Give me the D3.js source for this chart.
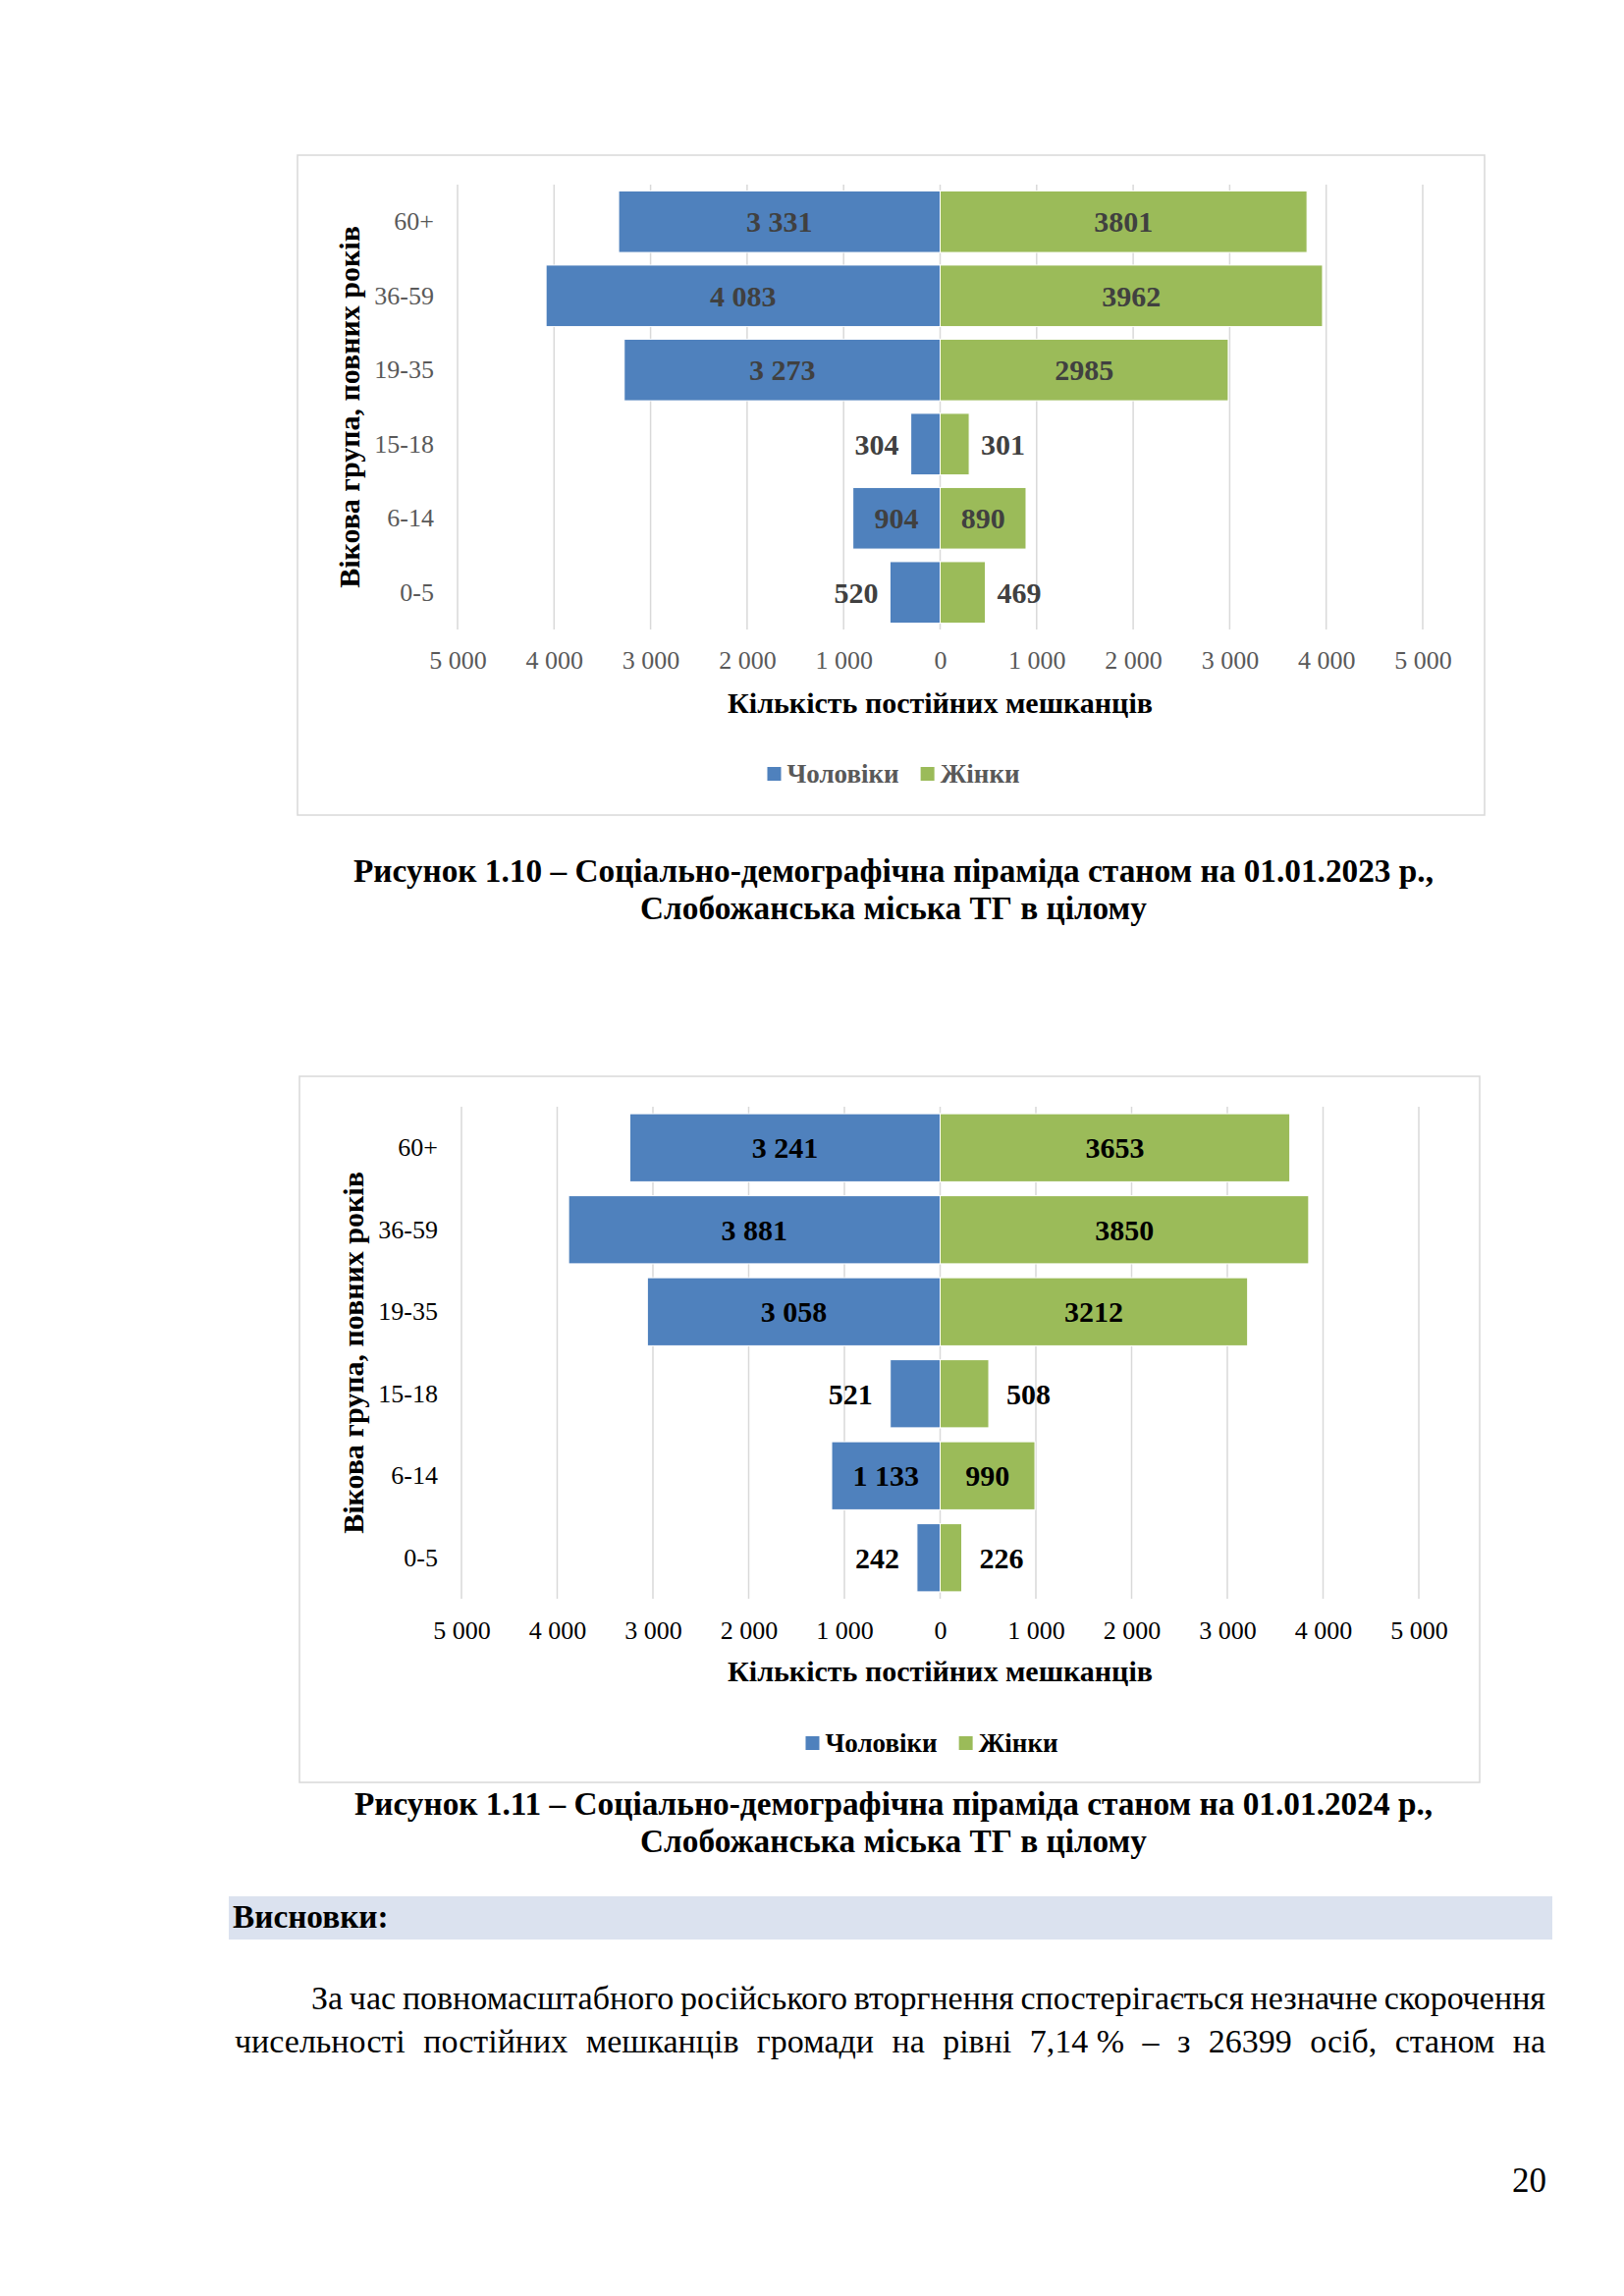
<!DOCTYPE html>
<html>
<head>
<meta charset="utf-8">
<script src="https://cdn.jsdelivr.net/npm/d3@7"></script>
<style>
  body { margin: 0; background: #fff; }
  svg { display: block; }
</style>
</head>
<body>
<svg id="page" width="1654" height="2338"></svg>
<script>
// age groups, top to bottom
const ageGroups = ["60+", "36-59", "19-35", "15-18", "6-14", "0-5"];

// 01.01.2023
const men2023 = [3331, 4083, 3273, 304, 904, 520];
const women2023 = [3801, 3962, 2985, 301, 890, 469];

// 01.01.2024
const men2024 = [3241, 3881, 3058, 521, 1133, 242];
const women2024 = [3653, 3850, 3212, 508, 990, 226];

const xTicks = [-5000, -4000, -3000, -2000, -1000, 0, 1000, 2000, 3000, 4000, 5000];
const seriesNames = ["Чоловіки", "Жінки"];
const yTitle = "Вікова група, повних років";
const xTitle = "Кількість постійних мешканців";

const captions1 = ["Рисунок 1.10 – Соціально-демографічна піраміда станом на 01.01.2023 р.,",
                   "Слобожанська міська ТГ в цілому"];
const captions2 = ["Рисунок 1.11 – Соціально-демографічна піраміда станом на 01.01.2024 р.,",
                   "Слобожанська міська ТГ в цілому"];
const bodyLines = [
  "За час повномасштабного російського вторгнення спостерігається незначне скорочення",
  "чисельності постійних мешканців громади на рівні 7,14\u00A0% – з 26399 осіб, станом на"
];

const SERIF = "'Liberation Serif', 'Times New Roman', serif";
const blue = "#4F81BD", green = "#9BBB59";

// thousands with a space, like Excel uk-UA
const loc = d3.formatLocale({decimal: ",", thousands: " ", grouping: [3], currency: ["", ""]});
const fmtSpace = loc.format(",d");

const svg = d3.select("#page");

function drawPyramid(cfg) {
  const g = svg.append("g");

  // chart area frame
  g.append("rect")
    .attr("x", cfg.frame[0]).attr("y", cfg.frame[1])
    .attr("width", cfg.frame[2] - cfg.frame[0]).attr("height", cfg.frame[3] - cfg.frame[1])
    .attr("fill", "#fff").attr("stroke", "#D9D9D9").attr("stroke-width", 1.5);

  const x = d3.scaleLinear().domain([-5000, 5000]).range(cfg.xRange);
  const y = d3.scaleBand().domain(ageGroups).range(cfg.yRange)
    .paddingInner(0.17).paddingOuter(0.085);

  // vertical gridlines
  g.append("g").selectAll("line")
    .data(xTicks)
    .join("line")
      .attr("x1", d => x(d)).attr("x2", d => x(d))
      .attr("y1", cfg.yRange[0]).attr("y2", cfg.yRange[1])
      .attr("stroke", "#D9D9D9").attr("stroke-width", 1.5);

  // x axis labels (absolute values)
  const xAxis = g.append("g")
    .attr("transform", `translate(0,${cfg.yRange[1]})`)
    .call(d3.axisBottom(x).tickValues(xTicks).tickSize(0).tickPadding(cfg.tickPad)
      .tickFormat(d => fmtSpace(Math.abs(d))));
  xAxis.select(".domain").remove();
  xAxis.selectAll("text")
    .attr("font-family", SERIF).attr("font-size", 26).attr("fill", cfg.axisColor);

  // age group labels
  const yAxis = g.append("g")
    .attr("transform", `translate(${cfg.xRange[0]},0)`)
    .call(d3.axisLeft(y).tickSize(0).tickPadding(24));
  yAxis.select(".domain").remove();
  yAxis.selectAll("text")
    .attr("font-family", SERIF).attr("font-size", 26).attr("fill", cfg.axisColor);

  const rows = ageGroups.map((a, i) => ({age: a, men: cfg.men[i], women: cfg.women[i]}));

  // men bars to the left, women to the right
  g.append("g").selectAll("rect")
    .data(rows)
    .join("rect")
      .attr("x", d => x(-d.men)).attr("y", d => y(d.age))
      .attr("width", d => x(0) - x(-d.men)).attr("height", y.bandwidth())
      .attr("fill", blue).attr("stroke", "#fff").attr("stroke-width", 1);
  g.append("g").selectAll("rect")
    .data(rows)
    .join("rect")
      .attr("x", x(0)).attr("y", d => y(d.age))
      .attr("width", d => x(d.women) - x(0)).attr("height", y.bandwidth())
      .attr("fill", green).attr("stroke", "#fff").attr("stroke-width", 1);

  // data labels: centered when they fit, otherwise just outside the bar end
  const labels = [];
  rows.forEach(d => {
    labels.push({age: d.age, side: -1, v: d.men, txt: fmtSpace(d.men)});
    labels.push({age: d.age, side: 1, v: d.women, txt: String(d.women)});
  });
  g.append("g").selectAll("text")
    .data(labels)
    .join("text")
      .attr("font-family", SERIF).attr("font-size", 30).attr("font-weight", "bold")
      .attr("fill", cfg.labelColor)
      .attr("y", d => y(d.age) + y.bandwidth() / 2)
      .attr("dy", "0.35em")
      .text(d => d.txt)
      .each(function (d) {
        const w = this.getComputedTextLength();
        const end = x(d.side * d.v);
        const barW = Math.abs(end - x(0));
        const sel = d3.select(this);
        if (barW > w + 16) {
          sel.attr("x", (end + x(0)) / 2).attr("text-anchor", "middle");
        } else if (d.side < 0) {
          sel.attr("x", end - cfg.outGap).attr("text-anchor", "end");
        } else {
          sel.attr("x", end + cfg.outGap).attr("text-anchor", "start");
        }
      });

  // axis titles
  g.append("text")
    .attr("transform", `translate(${cfg.yTitleX},${(cfg.yRange[0] + cfg.yRange[1]) / 2}) rotate(-90)`)
    .attr("text-anchor", "middle").attr("dy", "0.35em")
    .attr("font-family", SERIF).attr("font-size", 30).attr("font-weight", "bold")
    .text(yTitle);
  g.append("text")
    .attr("x", x(0)).attr("y", cfg.xTitleY).attr("dy", "0.35em")
    .attr("text-anchor", "middle")
    .attr("font-family", SERIF).attr("font-size", 30).attr("font-weight", "bold")
    .text(xTitle);

  // legend
  const leg = g.append("g");
  const items = leg.selectAll("g").data(seriesNames).join("g");
  items.append("rect").attr("width", 14).attr("height", 14).attr("y", -7)
    .attr("fill", (d, i) => i === 0 ? blue : green);
  items.append("text").attr("x", 20).attr("dy", "0.35em")
    .attr("font-family", SERIF).attr("font-size", 27).attr("font-weight", "bold")
    .attr("fill", cfg.legendColor).text(d => d);
  let lx = 0;
  items.each(function () {
    d3.select(this).attr("transform", `translate(${lx},0)`);
    lx += this.getBBox().width + 22;
  });
  const legW = lx - 22;
  leg.attr("transform", `translate(${cfg.legendCx - legW / 2},${cfg.legendY})`);
}

drawPyramid({
  men: men2023, women: women2023,
  frame: [303, 158, 1512, 830],
  xRange: [466, 1449], yRange: [188, 641],
  tickPad: 22, xTitleY: 715, yTitleX: 355,
  legendY: 788, legendCx: 910, outGap: 12,
  axisColor: "#595959", labelColor: "#404040", legendColor: "#595959"
});

drawPyramid({
  men: men2024, women: women2024,
  frame: [305, 1096, 1507, 1815],
  xRange: [470, 1445], yRange: [1127, 1628],
  tickPad: 23, xTitleY: 1701, yTitleX: 359,
  legendY: 1775, legendCx: 949, outGap: 18,
  axisColor: "#000", labelColor: "#000", legendColor: "#000"
});

// figure captions
function caption(lines, y0) {
  svg.append("g").selectAll("text")
    .data(lines)
    .join("text")
      .attr("x", 910).attr("y", (d, i) => y0 + i * 38)
      .attr("text-anchor", "middle")
      .attr("font-family", SERIF).attr("font-size", 33.3).attr("font-weight", "bold")
      .text(d => d);
}
caption(captions1, 898);
caption(captions2, 1848);

// "Висновки:" heading band
svg.append("rect").attr("x", 233).attr("y", 1931).attr("width", 1348).attr("height", 44)
  .attr("fill", "#DBE2EF");
svg.append("text").attr("x", 237).attr("y", 1963)
  .attr("font-family", SERIF).attr("font-size", 33.3).attr("font-weight", "bold")
  .text("Висновки:");

// justified body text (word gaps stretched to fill the line)
function justify(text, x0, x1, yb) {
  const words = text.split(" ");
  const nodes = words.map(w => svg.append("text").attr("y", yb)
    .attr("font-family", SERIF).attr("font-size", 34).text(w));
  const widths = nodes.map(n => n.node().getComputedTextLength());
  const gap = Math.max(6, (x1 - x0 - d3.sum(widths)) / (words.length - 1));
  let cx = x0;
  nodes.forEach((n, i) => { n.attr("x", cx); cx += widths[i] + gap; });
}
justify(bodyLines[0], 317, 1574, 2046);
justify(bodyLines[1], 239, 1574, 2090);

svg.append("text").attr("x", 1575).attr("y", 2232).attr("text-anchor", "end")
  .attr("font-family", SERIF).attr("font-size", 35).text("20");
</script>
</body>
</html>
